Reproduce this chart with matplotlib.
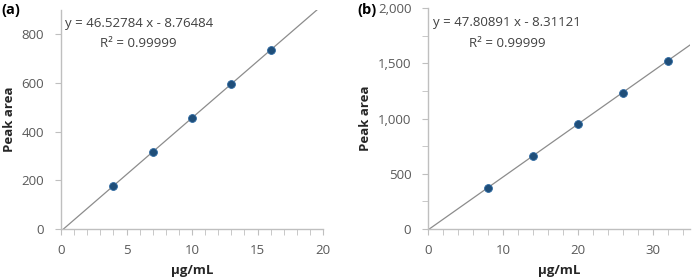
import matplotlib
matplotlib.use("Agg")
import matplotlib.pyplot as plt
from matplotlib.ticker import MultipleLocator, FuncFormatter

plt.rcParams["font.family"] = ["Open Sans", "DejaVu Sans"]

# panel (a)
conc_a = [4, 7, 10, 13, 16]
area_a = [178, 316, 456, 596, 737]
slope_a, icpt_a = 46.52784, -8.76484
eq_a = "y = 46.52784 x - 8.76484"

# panel (b)
conc_b = [8, 14, 20, 26, 32]
area_b = [375, 662, 948, 1235, 1522]
slope_b, icpt_b = 47.80891, -8.31121
eq_b = "y = 47.80891 x - 8.31121"

r2_text = "R² = 0.99999"

SPINE = "#bfbfbf"
TXT = "#595959"
PT = "#1f4e79"


def draw_panel(ax, x, y, slope, icpt, eq, xmax, ymax, xmaj, xmin, ymaj, ymin, eq_pos, r2_pos):
    x0 = -icpt / slope
    ax.plot([x0, xmax], [0, slope * xmax + icpt], color="#8c8c8c", lw=0.9, zorder=2)
    ax.scatter(x, y, s=32, color=PT, edgecolor="#2e6aa3", linewidth=0.6, zorder=3)
    ax.set_xlim(0, xmax)
    ax.set_ylim(0, ymax)
    for s in ["top", "right"]:
        ax.spines[s].set_visible(False)
    for s in ["left", "bottom"]:
        ax.spines[s].set_color(SPINE)
        ax.spines[s].set_linewidth(1.0)
    ax.xaxis.set_major_locator(MultipleLocator(xmaj))
    ax.xaxis.set_minor_locator(MultipleLocator(xmin))
    ax.yaxis.set_major_locator(MultipleLocator(ymaj))
    if ymin:
        ax.yaxis.set_minor_locator(MultipleLocator(ymin))
    ax.tick_params(which="both", color=SPINE, labelcolor=TXT, labelsize=9.5, length=4)
    ax.tick_params(axis="y", which="major", pad=8)
    ax.tick_params(axis="x", which="major", pad=7)
    ax.yaxis.set_major_formatter(FuncFormatter(lambda v, p: f"{v:,.0f}"))
    ax.set_ylabel("Peak area", fontweight="bold", fontsize=9.5, color="#262626", labelpad=4)
    ax.set_xlabel("µg/mL", fontweight="bold", fontsize=9.5, color="#262626", labelpad=5)
    ax.text(eq_pos[0], eq_pos[1], eq, transform=ax.transAxes, fontsize=9.5, color="#404040", va="center")
    ax.text(r2_pos[0], r2_pos[1], r2_text, transform=ax.transAxes, fontsize=9.5, color="#404040", va="center")


fig = plt.figure(figsize=(6.98, 2.8), dpi=100)
ax1 = fig.add_axes([61 / 698, 51 / 280, 262 / 698, 219 / 280])
ax2 = fig.add_axes([428 / 698, 51 / 280, 262 / 698, 221 / 280])

draw_panel(ax1, conc_a, area_a, slope_a, icpt_a, eq_a, 20, 900, 5, 1, 200, None,
           (0.015, 0.94), (0.15, 0.845))
draw_panel(ax2, conc_b, area_b, slope_b, icpt_b, eq_b, 35, 2000, 10, 2, 500, 250,
           (0.02, 0.935), (0.155, 0.84))

fig.text(1 / 698, 1 - 10 / 280, "(a)", fontweight="bold", fontsize=10.5, va="center")
fig.text(357 / 698, 1 - 10 / 280, "(b)", fontweight="bold", fontsize=10.5, va="center")

fig.savefig("out.png", dpi=100)
